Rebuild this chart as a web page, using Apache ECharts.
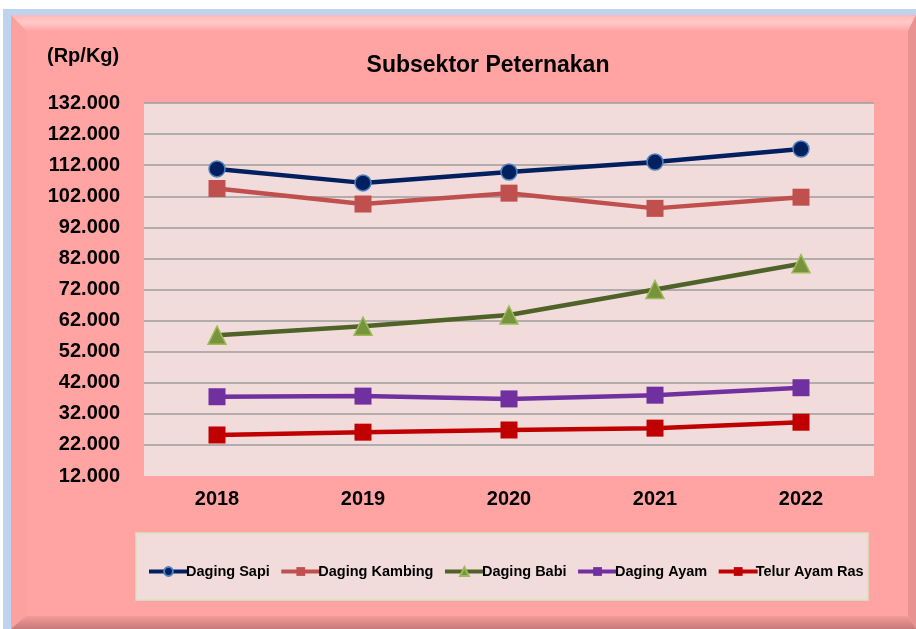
<!DOCTYPE html>
<html>
<head>
<meta charset="utf-8">
<script src="https://cdn.jsdelivr.net/npm/echarts@6/dist/echarts.min.js"></script>
<style>
html,body{margin:0;padding:0;background:#ffffff;}
#chart{width:916px;height:629px;}
</style>
</head>
<body>
<div id="chart"></div>
<script>
var years = ['2018', '2019', '2020', '2021', '2022'];
var dagingSapi = [110800, 106300, 109800, 113000, 117200];
var dagingKambing = [104500, 99500, 103000, 98100, 101700];
var dagingBabi = [57300, 60200, 63800, 72000, 80300];
var dagingAyam = [37500, 37700, 36800, 38000, 40400];
var telurAyamRas = [25200, 26100, 26800, 27400, 29300];
var yMin = 12000, yMax = 132000, yStep = 10000;

var FONT = '"Liberation Sans", Arial, sans-serif';
var chart = echarts.init(document.getElementById('chart'));

function mk(name, data, lineColor, symbol, fill, border, size) {
  return {
    name: name, type: 'line', data: data,
    symbol: symbol, symbolSize: size,
    lineStyle: { color: lineColor, width: 4.5 },
    itemStyle: { color: fill, borderColor: border, borderWidth: border === fill ? 0 : 1.5 },
    z: 3
  };
}

var splitColors = [];
for (var v = yMin; v <= yMax; v += yStep) splitColors.push(v === yMin ? 'rgba(0,0,0,0)' : '#9C9C9C');

chart.setOption({
  backgroundColor: '#ffffff',
  animation: false,
  textStyle: { fontFamily: FONT },
  graphic: [
    { type: 'rect', z: -100, shape: { x: 3, y: 9, width: 913, height: 620 }, style: { fill: '#BDD3EE' } },
    { type: 'rect', z: -99, shape: { x: 11, y: 15, width: 905, height: 614 }, style: { fill: '#FFA3A3' } },
    { type: 'polygon', z: -98, shape: { points: [[11, 15], [916, 15], [908, 31], [26, 31]] },
      style: { fill: new echarts.graphic.LinearGradient(0, 0, 0, 1, [
        { offset: 0, color: '#FFB8B8' }, { offset: 0.45, color: '#FFCACA' }, { offset: 1, color: '#FFA6A6' }]) } },
    { type: 'polygon', z: -98, shape: { points: [[11, 15], [26, 31], [26, 616], [11, 629]] },
      style: { fill: '#FDA0A0' } },
    { type: 'polygon', z: -98, shape: { points: [[908, 31], [916, 15], [916, 629], [908, 616]] },
      style: { fill: '#E99292' } },
    { type: 'polygon', z: -98, shape: { points: [[11, 629], [26, 616], [908, 616], [916, 629]] },
      style: { fill: new echarts.graphic.LinearGradient(0, 0, 0, 1, [
        { offset: 0, color: '#F59A9A' }, { offset: 1, color: '#C77A7A' }]) } },
    { type: 'rect', z: -97, shape: { x: 136, y: 533, width: 732, height: 67 },
      style: { fill: '#F2DCDB', stroke: '#D7E4BD', lineWidth: 1.5 } },
    { type: 'text', z: 10, left: 47, top: 46,
      style: { text: '(Rp/Kg)', font: 'bold 20px ' + FONT, fill: '#000000' } }
  ],
  title: {
    text: 'Subsektor Peternakan', left: 483, top: 49, textAlign: 'center',
    textStyle: { fontSize: 23, fontWeight: 'bold', color: '#000000', fontFamily: FONT }
  },
  legend: {
    left: 142, top: 559, itemWidth: 39, itemHeight: 11, itemGap: 9.5,
    lineStyle: { width: 4 },
    textStyle: { fontSize: 14.5, fontWeight: 'bold', color: '#000000', fontFamily: FONT, padding: [0, 0, 0, -7] },
    data: ['Daging Sapi', 'Daging Kambing', 'Daging Babi', 'Daging Ayam', 'Telur Ayam Ras']
  },
  grid: {
    left: 144, right: 42, top: 103, bottom: 153, show: true,
    backgroundColor: '#F2DCDB', borderWidth: 0
  },
  xAxis: {
    type: 'category', data: years, boundaryGap: true,
    axisLine: { show: false }, axisTick: { show: false },
    axisLabel: { fontSize: 20, fontWeight: 'bold', color: '#000000', margin: 13, fontFamily: FONT }
  },
  yAxis: {
    type: 'value', min: yMin, max: yMax, interval: yStep,
    axisLine: { show: false }, axisTick: { show: false },
    splitLine: { show: true, lineStyle: { color: splitColors, width: 1.5 } },
    axisLabel: {
      fontSize: 20, fontWeight: 'bold', color: '#000000', margin: 24, fontFamily: FONT,
      formatter: function (v) { return Math.round(v / 1000) + '.000'; }
    }
  },
  series: [
    mk('Daging Sapi', dagingSapi, '#002060', 'circle', '#002060', '#4F81BD', 16),
    mk('Daging Kambing', dagingKambing, '#C0504D', 'rect', '#C0504D', '#C0504D', 17),
    mk('Daging Babi', dagingBabi, '#4F6228', 'triangle', '#77933C', '#9BBB59', 18),
    mk('Daging Ayam', dagingAyam, '#7030A0', 'rect', '#7030A0', '#7030A0', 17),
    mk('Telur Ayam Ras', telurAyamRas, '#C00000', 'rect', '#C00000', '#C00000', 17)
  ]
});
</script>
</body>
</html>
